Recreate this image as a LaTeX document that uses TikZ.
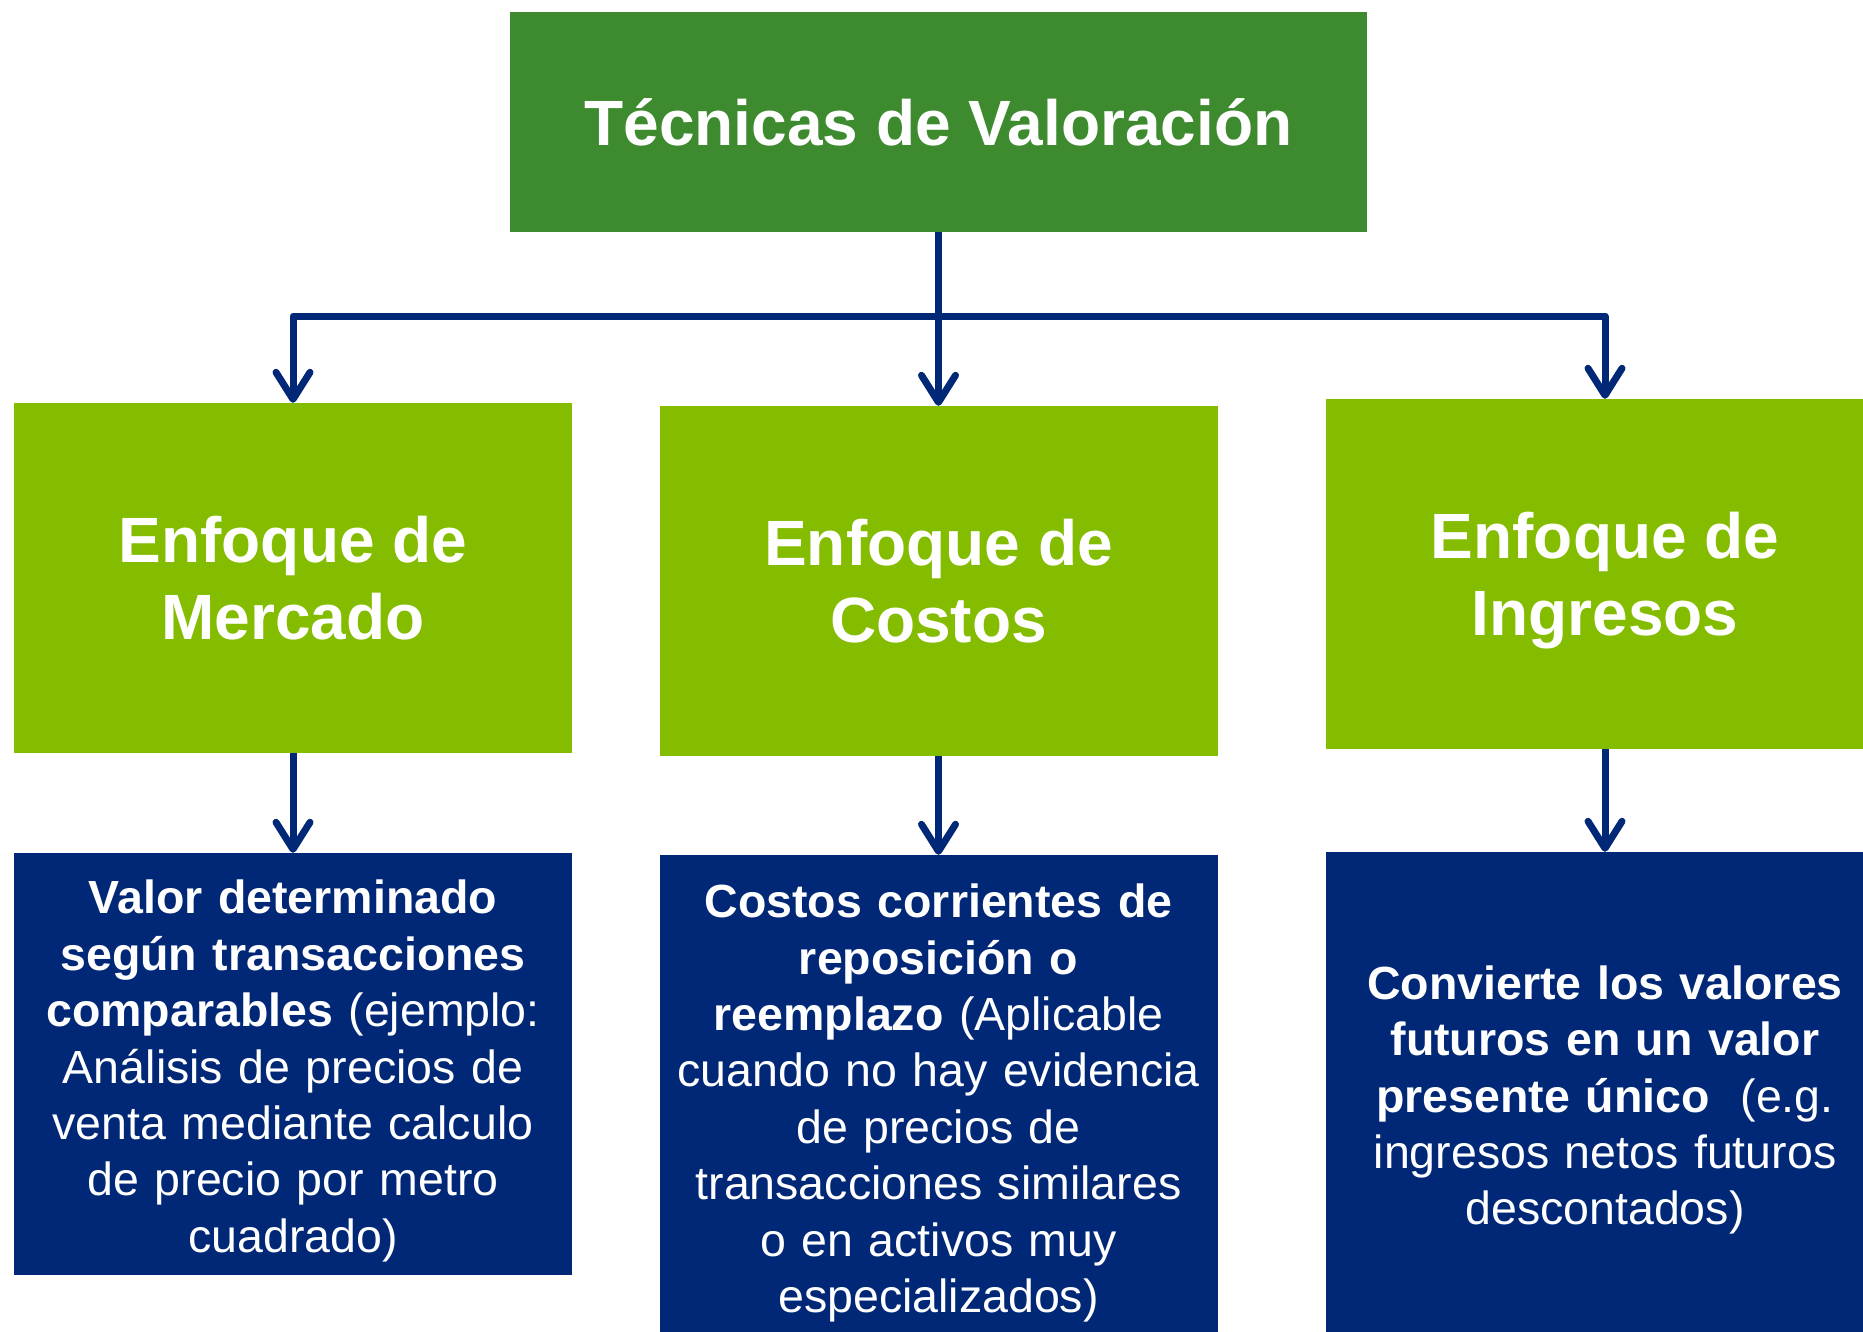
\documentclass[tikz,border=0pt]{standalone}
\usepackage{fontspec}
\setmainfont{Liberation Sans}
\usetikzlibrary{arrows.meta}
\definecolor{topgreen}{HTML}{3E8A2F}
\definecolor{litegreen}{HTML}{84BC00}
\definecolor{navyblue}{HTML}{002876}
\tikzset{
 topbox/.style={fill=topgreen, text=white, inner sep=0pt, minimum width=857pt, minimum height=220pt, font=\fontsize{64}{77}\selectfont\bfseries},
 greenbox/.style={fill=litegreen, text=white, inner sep=0pt, minimum width=558pt, minimum height=350pt, align=center, font=\fontsize{64}{77}\selectfont\bfseries},
 gtext/.style={text=white, inner sep=0pt, align=center, font=\fontsize{64}{77}\selectfont\bfseries},
 bluebox/.style={fill=navyblue, inner sep=0pt, minimum width=558pt},
 btext/.style={text=white, inner sep=0pt, text width=540pt, align=center, font=\fontsize{46.5}{56.4}\selectfont},
 conn/.style={draw=navyblue, line width=7pt, line join=round},
 arr/.style={conn, -{Straight Barb[length=27pt, width=34pt, round]}}
}
\begin{document}
\begin{tikzpicture}[x=1pt, y=-1pt]
\useasboundingbox (0,0) rectangle (1863,1331);
\clip (0,0) rectangle (1863,1331);
\node[topbox] (title) at (938.5,122) {Técnicas de Valoración};
\node[greenbox] (g1) at (293,578) {Enfoque de\\Mercado};
\node[greenbox] (g2) at (938.5,581) {Enfoque de\\Costos};
\node[greenbox, label={[gtext, yshift=-7pt]center:{Enfoque de\\Ingresos}}] (g3) at (1605,574) {};
\node[bluebox, minimum height=422pt, label={[btext, yshift=-7pt]center:{\textbf{Valor determinado}\\ \textbf{según transacciones}\\ \textbf{comparables} (ejemplo:\\ Análisis de precios de\\ venta mediante calculo\\ de precio por metro\\ cuadrado)}}] (b1) at (293,1064) {};
\node[bluebox, minimum height=486pt, label={[btext, yshift=-5pt]center:{\textbf{Costos corrientes de}\\ \textbf{reposición o}\\ \textbf{reemplazo} (Aplicable\\ cuando no hay evidencia\\ de precios de\\ transacciones similares\\ o en activos muy\\ especializados)}}] (b2) at (938.5,1098) {};
\node[bluebox, minimum height=488pt, label={[btext, yshift=-4pt]center:{\textbf{Convierte los valores}\\ \textbf{futuros en un valor}\\ \textbf{presente único}~~(e.g.\\ ingresos netos futuros\\ descontados)}}] (b3) at (1605,1096) {};
\coordinate (j) at (938.5,316);
\draw[conn] (title.south) -- (j);
\draw[arr] (j) -| (g1.north);
\draw[arr] (j) -- (g2.north);
\draw[arr] (j) -| (g3.north);
\draw[arr] (g1.south) -- (b1.north);
\draw[arr] (g2.south) -- (b2.north);
\draw[arr] (g3.south) -- (b3.north);
\end{tikzpicture}
\end{document}
